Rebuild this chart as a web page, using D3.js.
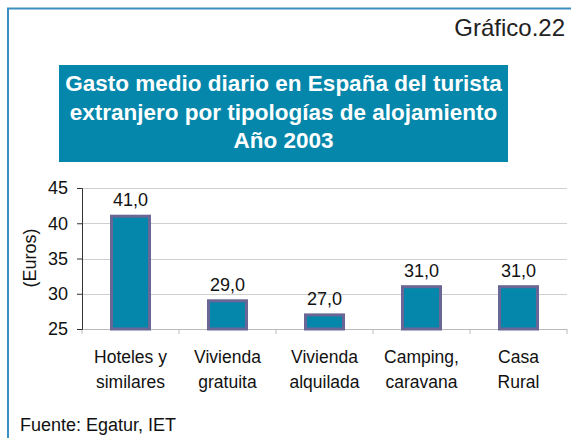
<!DOCTYPE html>
<html>
<head>
<meta charset="utf-8">
<script src="https://cdnjs.cloudflare.com/ajax/libs/d3/7.8.5/d3.min.js"></script>
<style>
  body { margin: 0; background: #fff; }
  text { font-family: "Liberation Sans", Arial, sans-serif; }
</style>
</head>
<body>
<div id="chart"></div>
<script>
// chart data
var categories = [["Hoteles y", "similares"], ["Vivienda", "gratuita"], ["Vivienda", "alquilada"], ["Camping,", "caravana"], ["Casa", "Rural"]];
var values = [41.0, 29.0, 27.0, 31.0, 31.0];
var yTicks = [25, 30, 35, 40, 45];
var titleLines = ["Gasto medio diario en España del turista", "extranjero por tipologías de alojamiento", "Año 2003"];

var W = 571, H = 438;
var svg = d3.select("#chart").append("svg").attr("width", W).attr("height", H);

// frame (top + left border)
svg.append("path")
  .attr("d", "M8,438 L8,8.5 L571,8.5")
  .attr("fill", "none")
  .attr("stroke", "#3b8fc0")
  .attr("stroke-width", 2);

svg.append("text")
  .attr("x", 565).attr("y", 36)
  .attr("text-anchor", "end")
  .style("font-size", "24px")
  .style("fill", "#222")
  .text("Gráfico.22");

// title box
svg.append("rect")
  .attr("x", 59).attr("y", 65)
  .attr("width", 449).attr("height", 97)
  .attr("fill", "#0587ab");

svg.selectAll(".title").data(titleLines).enter().append("text")
  .attr("x", 283.5)
  .attr("y", function (d, i) { return 91 + i * 28.5; })
  .attr("text-anchor", "middle")
  .style("font-size", "22.5px")
  .style("font-weight", "bold")
  .style("fill", "#fff")
  .text(function (d) { return d; });

// plot area
var plotL = 82, plotR = 567, plotT = 188, plotB = 329;

var x = d3.scaleBand().domain(d3.range(categories.length)).range([plotL, plotR]);
var y = d3.scaleLinear().domain([25, 45]).range([plotB, plotT]);

// gridlines
svg.selectAll(".grid").data(yTicks.slice(1)).enter().append("line")
  .attr("x1", plotL).attr("x2", plotR)
  .attr("y1", function (d) { return Math.round(y(d)) + 0.5; })
  .attr("y2", function (d) { return Math.round(y(d)) + 0.5; })
  .attr("stroke", "#cfcfcf")
  .attr("stroke-width", 1);

// x axis line + ticks
svg.append("line")
  .attr("x1", plotL).attr("x2", plotR)
  .attr("y1", plotB + 0.5).attr("y2", plotB + 0.5)
  .attr("stroke", "#bbb");
svg.selectAll(".xtick").data(d3.range(categories.length + 1)).enter().append("line")
  .attr("x1", function (i) { return plotL + i * x.bandwidth(); })
  .attr("x2", function (i) { return plotL + i * x.bandwidth(); })
  .attr("y1", plotB).attr("y2", plotB + 5)
  .attr("stroke", "#bbb");

// y axis
var yAxis = svg.append("g")
  .attr("transform", "translate(" + plotL + ",0)")
  .call(d3.axisLeft(y).tickValues(yTicks).tickSize(5).tickPadding(9).tickFormat(d3.format("d")));
yAxis.select(".domain").attr("stroke", "#333");
yAxis.selectAll(".tick line").attr("stroke", "#333");
yAxis.selectAll("text").style("font-size", "18px").style("fill", "#111")
  .style("font-family", "'Liberation Sans', Arial, sans-serif");

// bars
var barW = 38;
svg.selectAll(".bar").data(values).enter().append("rect")
  .attr("x", function (d, i) { return x(i) + x.bandwidth() / 2 - barW / 2; })
  .attr("y", function (d) { return y(d); })
  .attr("width", barW)
  .attr("height", function (d) { return y(25) - y(d); })
  .attr("fill", "#0587ab")
  .attr("stroke", "#6a6696")
  .attr("stroke-width", 3);

// value labels
svg.selectAll(".val").data(values).enter().append("text")
  .attr("x", function (d, i) { return x(i) + x.bandwidth() / 2; })
  .attr("y", function (d) { return y(d) - 10; })
  .attr("text-anchor", "middle")
  .style("font-size", "18px")
  .style("fill", "#111")
  .text(function (d) { return d.toFixed(1).replace(".", ","); });

// category labels
categories.forEach(function (c, i) {
  svg.append("text")
    .attr("x", x(i) + x.bandwidth() / 2)
    .attr("text-anchor", "middle")
    .style("font-size", "17.5px")
    .style("fill", "#111")
    .selectAll("tspan").data(c).enter().append("tspan")
      .attr("x", x(i) + x.bandwidth() / 2)
      .attr("y", function (d, j) { return 363 + j * 25; })
      .text(function (d) { return d; });
});

// y axis title
svg.append("text")
  .attr("transform", "translate(36,258) rotate(-90)")
  .attr("text-anchor", "middle")
  .style("font-size", "18px")
  .style("fill", "#111")
  .text("(Euros)");

// source
svg.append("text")
  .attr("x", 20).attr("y", 431)
  .style("font-size", "18px")
  .style("fill", "#111")
  .text("Fuente: Egatur, IET");
</script>
</body>
</html>
